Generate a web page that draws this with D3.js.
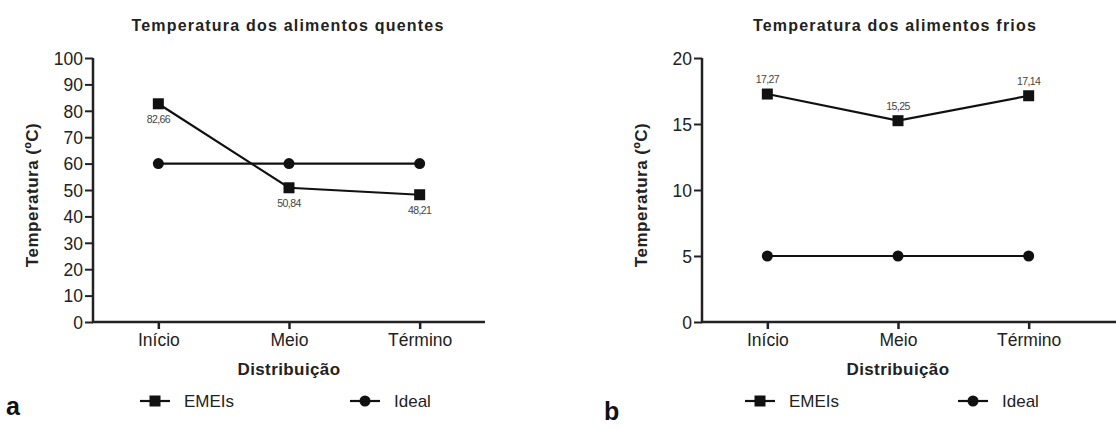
<!DOCTYPE html>
<html lang="pt">
<head>
  <meta charset="UTF-8" />
  <title>Temperatura dos alimentos</title>
  <style>
    body { margin: 0; padding: 0; background: #fff; }
    svg { display: block; font-family: Arial, "Liberation Sans", sans-serif; }
    .tick text { fill: #222; }
  </style>
  <script src="https://d3js.org/d3.v7.min.js"></script>
</head>
<body>
  <svg width="1116" height="428"></svg>
  <script>
    const categories = ["Início", "Meio", "Término"];
    const seriesNames = ["EMEIs", "Ideal"];

    // quentes (a)
    const hotEmeis = [82.66, 50.84, 48.21];
    const hotIdeal = [60, 60, 60];
    const hotTicks = [0, 10, 20, 30, 40, 50, 60, 70, 80, 90, 100];

    // frios (b)
    const coldEmeis = [17.27, 15.25, 17.14];
    const coldIdeal = [5, 5, 5];
    const coldTicks = [0, 5, 10, 15, 20];

    const svg = d3.select("svg");
    const fmt = v => v.toFixed(2).replace(".", ",");

    function panel(opt) {
      const g = svg.append("g");
      const x = d3.scalePoint().domain(categories).range([opt.left, opt.left + 392]).padding(0.5);
      const y = d3.scaleLinear().domain([0, opt.max]).range([322, 58]);

      // title
      g.append("text")
        .attr("x", opt.titleX).attr("y", 31)
        .attr("text-anchor", "middle")
        .attr("font-size", 16).attr("font-weight", "bold")
        .attr("letter-spacing", 1.2)
        .attr("fill", "#222")
        .text(opt.title);

      // y axis
      const ya = g.append("g")
        .attr("transform", `translate(${opt.left},0)`)
        .call(d3.axisLeft(y).tickValues(opt.ticks).tickSize(8).tickPadding(2));
      ya.select(".domain").remove();
      ya.selectAll(".tick line").attr("stroke", "#222").attr("stroke-width", 2);
      ya.selectAll(".tick text").attr("font-size", 17.5).attr("dy", "0.36em");

      // x axis
      const xa = g.append("g")
        .attr("transform", "translate(0,322)")
        .call(d3.axisBottom(x).tickSize(7).tickPadding(5));
      xa.select(".domain").remove();
      xa.selectAll(".tick line").attr("stroke", "#222").attr("stroke-width", 2.5);
      xa.selectAll(".tick text").attr("font-size", 17.5);

      g.append("path")
        .attr("d", `M${opt.left},${y(opt.max)}V${y(0)}H${opt.axisEnd}`)
        .attr("fill", "none").attr("stroke", "#222").attr("stroke-width", 2.5);

      // axis titles
      g.append("text")
        .attr("transform", `translate(${opt.left - 55},${(y(0) + y(opt.max)) / 2 + 5}) rotate(-90)`)
        .attr("text-anchor", "middle")
        .attr("font-size", 17).attr("font-weight", "bold").attr("fill", "#222")
        .attr("letter-spacing", 0.5)
        .text("Temperatura (ºC)");
      g.append("text")
        .attr("x", x("Meio")).attr("y", 375)
        .attr("text-anchor", "middle")
        .attr("font-size", 17).attr("font-weight", "bold").attr("fill", "#222")
        .attr("letter-spacing", 0.4)
        .text("Distribuição");

      const line = d3.line().x((d, i) => x(categories[i])).y(d => y(d));

      // ideal series
      g.append("path").datum(opt.ideal)
        .attr("d", line).attr("fill", "none").attr("stroke", "#111").attr("stroke-width", 2.2);
      g.selectAll(".ideal").data(opt.ideal).join("circle")
        .attr("cx", (d, i) => x(categories[i])).attr("cy", d => y(d))
        .attr("r", 5.5).attr("fill", "#111");

      // EMEIs series
      g.append("path").datum(opt.emeis)
        .attr("d", line).attr("fill", "none").attr("stroke", "#111").attr("stroke-width", 2.2);
      g.selectAll(".emeis").data(opt.emeis).join("rect")
        .attr("x", (d, i) => x(categories[i]) - 5.5).attr("y", d => y(d) - 5.5)
        .attr("width", 11).attr("height", 11).attr("fill", "#111");

      g.selectAll(".lbl").data(opt.emeis).join("text")
        .attr("x", (d, i) => x(categories[i])).attr("y", d => y(d) + opt.labelDy)
        .attr("text-anchor", "middle")
        .attr("font-size", 10.5).attr("letter-spacing", -0.6).attr("fill", "#444")
        .text(d => fmt(d));

      // legend
      const ly = 401;
      opt.legendX.forEach((lx, i) => {
        g.append("line").attr("x1", lx).attr("x2", lx + 30).attr("y1", ly).attr("y2", ly)
          .attr("stroke", "#111").attr("stroke-width", 2.2);
        if (i === 0) {
          g.append("rect").attr("x", lx + 9.5).attr("y", ly - 5.5).attr("width", 11).attr("height", 11).attr("fill", "#111");
        } else {
          g.append("circle").attr("cx", lx + 15).attr("cy", ly).attr("r", 5.5).attr("fill", "#111");
        }
        g.append("text").attr("x", lx + 44).attr("y", ly + 6)
          .attr("font-size", 17).attr("fill", "#222").text(seriesNames[i]);
      });

      g.append("text")
        .attr("x", opt.letterX).attr("y", opt.letterY)
        .attr("font-size", 25).attr("font-weight", "bold").attr("fill", "#111")
        .text(opt.letter);
    }

    panel({
      left: 93, axisEnd: 485, max: 100, ticks: hotTicks,
      emeis: hotEmeis, ideal: hotIdeal, labelDy: 19,
      title: "Temperatura dos alimentos quentes", titleX: 288,
      legendX: [140, 350], letter: "a", letterX: 6, letterY: 415
    });
    panel({
      left: 702, axisEnd: 1116, max: 20, ticks: coldTicks,
      emeis: coldEmeis, ideal: coldIdeal, labelDy: -11,
      title: "Temperatura dos alimentos frios", titleX: 895,
      legendX: [745, 958], letter: "b", letterX: 604, letterY: 420
    });
  </script>
</body>
</html>
